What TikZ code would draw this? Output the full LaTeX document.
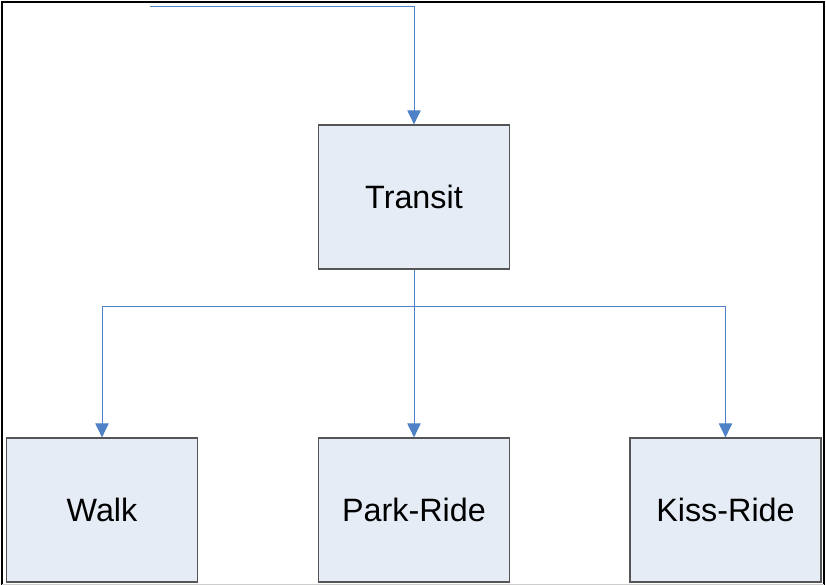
\documentclass[tikz,border=0pt]{standalone}
\usepackage{fontspec}
\setmainfont{Liberation Sans}
\usepackage{tikz}
\usetikzlibrary{calc,positioning,arrows.meta}

\definecolor{boxfill}{HTML}{E6ECF6}
\definecolor{boxline}{HTML}{555555}
\definecolor{linkblue}{HTML}{4F81C7}

\begin{document}
\begin{tikzpicture}[x=0.03cm,y=-0.03cm]
\tikzstyle{mode}=[rectangle, draw=boxline, fill=boxfill, line width=1.6pt,
  minimum width=5.73cm, minimum height=4.3cm, inner sep=0pt,
  font=\fontsize{27.6}{32}\selectfont]
\tikzstyle{link}=[draw=linkblue, line width=0.8pt,
  -{Triangle[length=0.42cm,width=0.4cm,fill=linkblue]}]

\useasboundingbox (0,0) rectangle (826,585);
% frame
\draw[line width=1.6pt] (2,585) -- (2,2) -- (824,2) -- (824,585);
\draw[gray!40, line width=0.8pt] (2,584) -- (824,584);

\node[mode] (T) at (414,197) {Transit};
\node[mode] (W) at (102,510) {Walk};
\node[mode] (P) at (414,510) {Park-Ride};
\node[mode] (K) at (725.5,510) {Kiss-Ride};

\coordinate (S) at (150,6);
\coordinate (F) at (414,306);

\draw[link] (S) -| (T.north);
\draw[draw=linkblue, line width=0.8pt] (T.south) -- (F);
\draw[link] (F) -| (W.north);
\draw[link] (F) -- (P.north);
\draw[link] (F) -| (K.north);
\end{tikzpicture}
\end{document}
